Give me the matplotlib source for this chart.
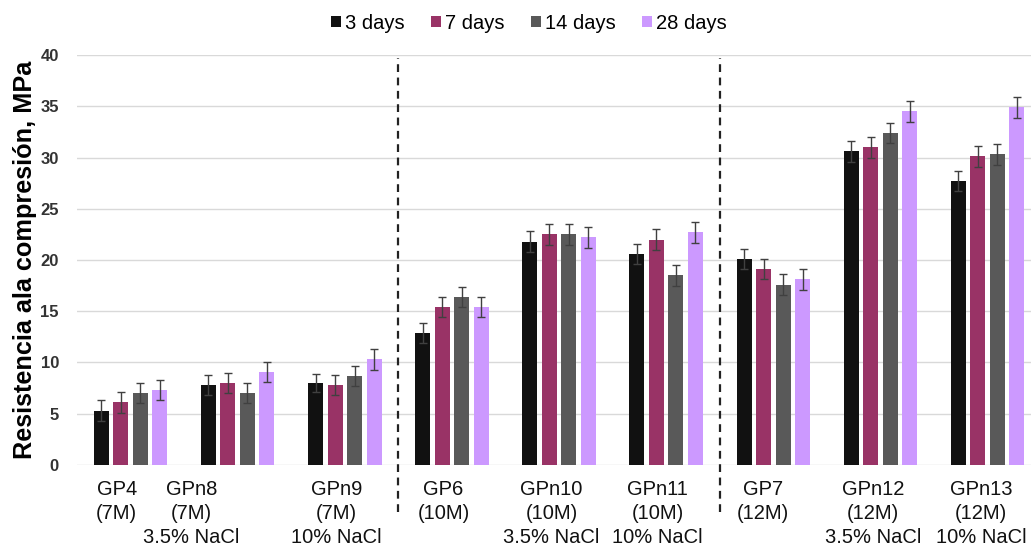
import numpy as np
import matplotlib
matplotlib.use("Agg")
import matplotlib.pyplot as plt
from matplotlib.patches import Patch

plt.rcParams['font.family'] = ['Liberation Sans', 'DejaVu Sans']

groups = ["GP4\n(7M)", "GPn8\n(7M)\n3.5% NaCl", "GPn9\n(7M)\n10% NaCl",
          "GP6\n(10M)", "GPn10\n(10M)\n3.5% NaCl", "GPn11\n(10M)\n10% NaCl",
          "GP7\n(12M)", "GPn12\n(12M)\n3.5% NaCl", "GPn13\n(12M)\n10% NaCl"]
series = ["3 days", "7 days", "14 days", "28 days"]

d3 = [5.3, 7.8, 8.0, 12.9, 21.8, 20.6, 20.1, 30.6, 27.7]
d7 = [6.1, 8.0, 7.8, 15.4, 22.5, 22.0, 19.1, 31.0, 30.1]
d14 = [7.0, 7.0, 8.7, 16.4, 22.5, 18.5, 17.6, 32.4, 30.3]
d28 = [7.3, 9.05, 10.3, 15.4, 22.2, 22.7, 18.1, 34.5, 34.9]

e3 = [1.0, 1.0, 0.9, 1.0, 1.0, 1.0, 1.0, 1.0, 1.0]
e7 = [1.0, 1.0, 1.0, 1.0, 1.0, 1.0, 1.0, 1.0, 1.0]
e14 = [1.0, 1.0, 1.0, 1.0, 1.0, 1.0, 1.0, 1.0, 1.0]
e28 = [1.0, 1.0, 1.0, 1.0, 1.0, 1.0, 1.0, 1.0, 1.0]

colors = ["#111111", "#993366", "#595959", "#cc99ff"]

# label shift to the left (in group units), like in the original
label_shift = [-0.13, -0.43, -0.08, -0.08, -0.07, -0.08, -0.1, -0.07, -0.06]

fig = plt.figure(figsize=(10.31, 5.48), dpi=100)
ax = fig.add_axes([0.0747, 0.1515, 0.9253, 0.7481])

x = np.arange(len(groups))
width = 0.14
stride = 0.182
vals = [d3, d7, d14, d28]
errs = [e3, e7, e14, e28]
for i in range(4):
    pos = x + (i - 1.5) * stride
    ax.bar(pos, vals[i], width, color=colors[i], zorder=3)
    ax.errorbar(pos, vals[i], yerr=errs[i], fmt='none', ecolor='#404040',
                elinewidth=1, capsize=3, capthick=1, zorder=4)

ax.set_ylim(0, 40)
ax.set_xlim(-0.5, 8.405)
ax.set_yticks(range(0, 41, 5))
ax.set_xticks([])
ax.grid(axis='y', color='#d9d9d9', linewidth=1, zorder=0)
for s in ax.spines.values():
    s.set_visible(False)
ax.tick_params(axis='y', length=0, pad=13, labelsize=12, labelcolor='#333333')
for t in ax.get_yticklabels():
    t.set_fontweight('bold')

ax.set_ylabel("Resistencia ala compresión, MPa", fontsize=18.2,
              fontweight='bold')
ax.yaxis.set_label_coords(-0.042, 0.5)

for i in range(len(groups)):
    ax.text(x[i] + label_shift[i], -1.5, groups[i], ha='center', va='top',
            fontsize=14.5, color='#111111', linespacing=1.32)

for b in [(x[2] + x[3]) / 2, (x[5] + x[6]) / 2]:
    ax.plot([b, b], [-4.6, 39.7], color='#222222', linestyle=(0, (3.5, 2.5)),
            linewidth=1.6, clip_on=False, zorder=5)

handles = [Patch(facecolor=c) for c in colors]
fig.legend(handles, series, loc='center', bbox_to_anchor=(0.513, 0.958),
           ncol=4, frameon=False, fontsize=14.5, handlelength=0.5,
           handleheight=0.5, handletextpad=0.2, columnspacing=1.3)

fig.savefig("out.png", dpi=100)
